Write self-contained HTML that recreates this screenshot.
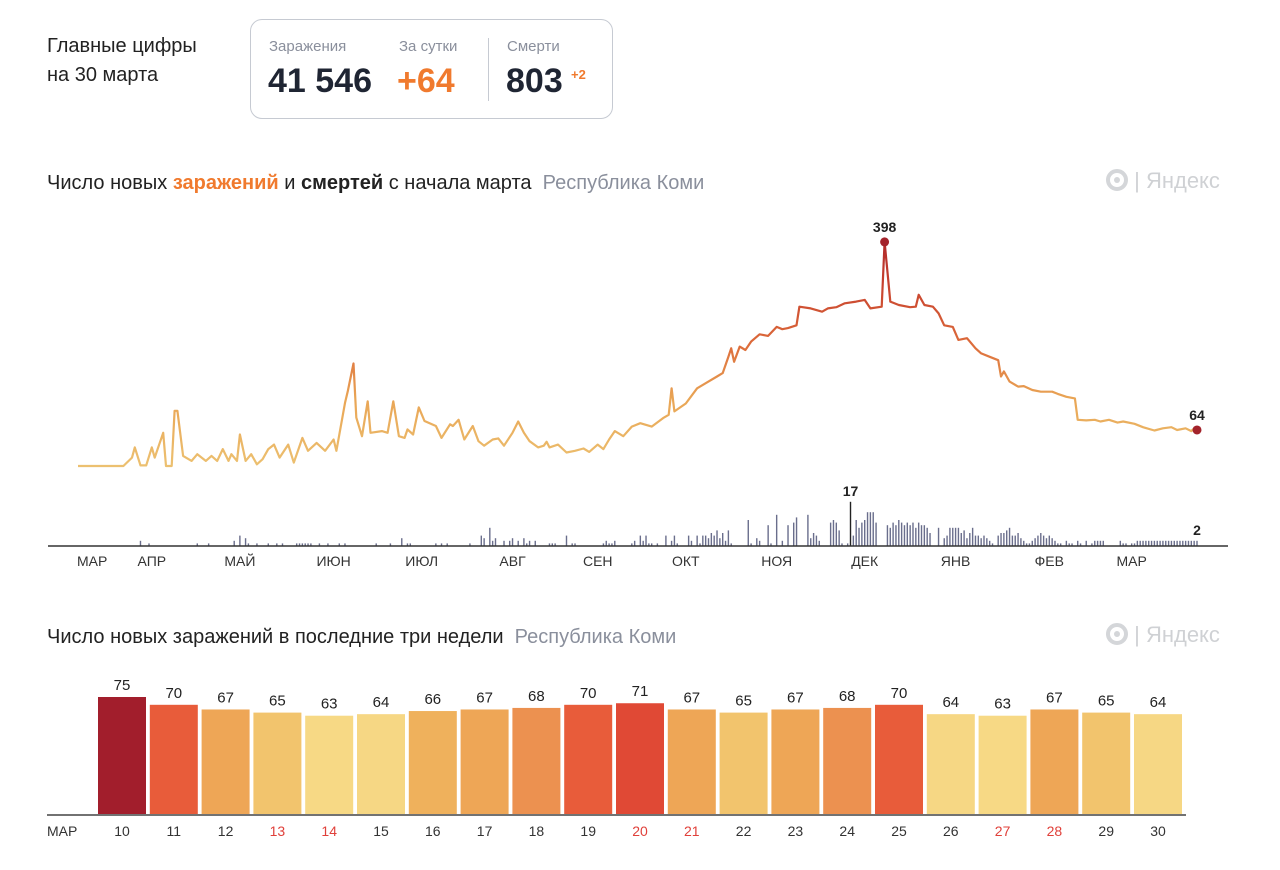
<!DOCTYPE html>
<html><head><meta charset="utf-8">
<style>
body{margin:0;background:#fff;font-family:"Liberation Sans","Noto Sans CJK SC",sans-serif;color:#222;}
#wrap{position:relative;width:1280px;height:870px;overflow:hidden;}
.abs{position:absolute;white-space:nowrap;}
</style></head><body>
<div id="wrap">
<div class="abs" style="left:47px;top:32px;font-size:20px;line-height:29px;color:#222">Главные цифры<br>на 30 марта</div>
<div class="abs" style="left:250px;top:19px;width:363px;height:100px;border:1.5px solid #c6cad2;border-radius:12px;box-sizing:border-box">
  <div class="abs" style="left:18px;top:18px;font-size:15px;color:#8a8f9c">Заражения</div>
  <div class="abs" style="left:17px;top:42px;font-size:34px;font-weight:bold;color:#1f2533">41 546</div>
  <div class="abs" style="left:148px;top:18px;font-size:15px;color:#8a8f9c">За сутки</div>
  <div class="abs" style="left:146px;top:42px;font-size:34px;font-weight:bold;color:#f07a2e">+64</div>
  <div class="abs" style="left:237px;top:18px;width:1px;height:63px;background:#c6cad2"></div>
  <div class="abs" style="left:256px;top:18px;font-size:15px;color:#8a8f9c">Смерти</div>
  <div class="abs" style="left:255px;top:42px;font-size:34px;font-weight:bold;color:#1f2533">803</div>
  <div class="abs" style="left:320px;top:47px;font-size:13px;font-weight:bold;color:#f07a2e">+2</div>
</div>
<div class="abs" style="left:47px;top:172px;font-size:20px;color:#222">Число новых <b style="color:#f07a2e">заражений</b> и <b>смертей</b> с начала марта&nbsp; <span style="color:#8a8f9c">Республика Коми</span></div>
<div class="abs" style="left:47px;top:626px;font-size:20px;color:#222">Число новых заражений в последние три недели&nbsp; <span style="color:#8a8f9c">Республика Коми</span></div>
<div class="abs" style="left:1106px;top:168px;font-size:22px;color:#cfd1d4"><span style="display:inline-block;width:22px;height:22px;border:4px solid #d4d6d9;border-radius:50%;box-sizing:border-box;vertical-align:-3px;position:relative"><span style="position:absolute;left:4px;top:4px;width:6px;height:6px;border-radius:50%;background:#d4d6d9"></span></span> | Яндекс</div>
<div class="abs" style="left:1106px;top:622px;font-size:22px;color:#cfd1d4"><span style="display:inline-block;width:22px;height:22px;border:4px solid #d4d6d9;border-radius:50%;box-sizing:border-box;vertical-align:-3px;position:relative"><span style="position:absolute;left:4px;top:4px;width:6px;height:6px;border-radius:50%;background:#d4d6d9"></span></span> | Яндекс</div>
<svg id="chart" class="abs" style="left:0;top:0" width="1280" height="870">
<defs><linearGradient id="lg" gradientUnits="userSpaceOnUse" x1="0" y1="466" x2="0" y2="242">
<stop offset="0" stop-color="#ecc070"/><stop offset="0.3" stop-color="#e9a555"/><stop offset="0.55" stop-color="#dc6a3a"/><stop offset="0.8" stop-color="#c8432f"/><stop offset="1" stop-color="#b02a2a"/></linearGradient></defs>
</svg>
</div>
<script>
const caseDays=[0,16,19,20,22,24,26,27,30,31,33,34,35,37,40,42,45,47,49,51,53,54,56,57,59,61,63,65,67,69,71,74,76,79,81,84,87,90,91,94,95,97,98,100,102,103,107,109,111,113,115,116,118,120,122,126,128,131,132,134,136,139,141,143,146,148,150,153,155,157,159,162,164,165,166,169,172,175,178,180,183,185,187,189,192,195,198,202,206,208,209,210,214,218,221,225,227,229,230,231,233,235,237,240,243,246,248,250,253,254,258,262,264,267,270,274,277,279,283,284,286,289,293,295,296,298,301,303,305,308,310,313,316,318,321,324,325,326,328,331,333,336,339,343,345,348,351,352,355,358,360,363,366,368,372,375,379,382,385,387,390,392,393,394];
const cases=[0,0,15,33,1,1,33,15,59,0,0,98,98,18,9,21,9,18,9,30,9,21,9,56,9,21,3,12,30,38,15,38,6,50,27,41,27,47,27,112,133,182,86,53,115,59,62,59,115,53,50,65,56,104,80,71,50,74,71,82,47,71,44,36,47,49,36,59,79,59,44,33,36,43,33,38,24,27,31,25,38,30,47,62,53,70,76,70,85,91,138,97,111,138,147,159,165,194,209,185,212,206,221,234,231,247,243,245,250,283,280,274,280,282,289,292,295,280,283,398,292,286,282,283,304,286,283,271,250,247,224,227,209,200,194,188,159,168,150,141,142,135,132,132,128,123,120,82,81,82,79,82,77,79,75,69,63,67,69,64,67,62,67,64];
const deaths=[0,0,0,0,0,0,0,0,0,0,0,0,0,0,0,0,0,0,0,0,
0,0,2,0,0,1,0,0,0,0,0,0,0,0,0,0,0,0,0,0,
0,0,1,0,0,0,1,0,0,0,0,0,0,0,0,2,0,4,0,3,
1,0,0,1,0,0,0,1,0,0,1,0,1,0,0,0,0,1,1,1,
1,1,1,0,0,1,0,0,1,0,0,0,1,0,1,0,0,0,0,0,
0,0,0,0,0,1,0,0,0,0,1,0,0,0,3,0,1,1,0,0,
0,0,0,0,0,0,1,0,1,0,1,0,0,0,0,0,0,0,1,0,
0,0,4,3,0,7,2,3,0,0,2,0,2,3,0,2,0,3,1,2,
0,2,0,0,0,0,1,1,1,0,0,0,4,0,1,1,0,0,0,0,
0,0,0,0,0,1,2,1,1,2,0,0,0,0,0,1,2,0,4,2,
4,1,1,0,1,0,0,4,0,2,4,1,0,0,0,4,2,0,4,1,
4,4,3,5,4,6,3,5,2,6,1,0,0,0,0,0,10,1,0,3,
2,0,0,8,1,0,12,0,2,0,8,0,9,11,0,0,0,12,3,5,
4,2,0,0,0,9,10,9,6,1,0,1,17,4,10,7,9,10,13,13,
13,9,0,0,0,8,7,9,8,10,9,8,9,8,9,7,9,8,8,7,
5,0,0,7,0,3,4,7,7,7,7,5,6,3,5,7,4,4,3,4,
3,2,1,0,4,5,5,6,7,4,4,5,3,2,1,1,2,3,4,5,
4,3,4,3,2,1,1,0,2,1,1,0,2,1,0,2,0,1,2,2,
2,2,0,0,0,0,0,2,1,1,0,1,1,2,2,2,2,2,2,2,
2,2,2,2,2,2,2,2,2,2,2,2,2,2,2];
const monthLabels=["МАР","АПР","МАЙ","ИЮН","ИЮЛ","АВГ","СЕН","ОКТ","НОЯ","ДЕК","ЯНВ","ФЕВ","МАР"];
const monthDays=[5,26,57,90,121,153,183,214,246,277,309,342,371];
const barDates=["10","11","12","13","14","15","16","17","18","19","20","21","22","23","24","25","26","27","28","29","30"];
const barValues=[75,70,67,65,63,64,66,67,68,70,71,67,65,67,68,70,64,63,67,65,64];
const weekendDates=["13","14","20","21","27","28"];

const svg=document.getElementById('chart');
const NS='http://www.w3.org/2000/svg';
function mk(tag,attrs){const e=document.createElementNS(NS,tag);for(const k in attrs)e.setAttribute(k,attrs[k]);svg.appendChild(e);return e;}
const X=d=>78+d*(1119/394);
const Y=v=>466-v*0.563;
const DY=v=>546-v*2.6;

let dstr='';
caseDays.forEach((d,i)=>{dstr+=(i?'L':'M')+X(d).toFixed(1)+','+Y(cases[i]).toFixed(1);});
const line=mk('path',{d:dstr,fill:'none',stroke:'url(#lg)','stroke-width':2.2,'stroke-linejoin':'round'});


let maxI=0;cases.forEach((v,i)=>{if(v>cases[maxI])maxI=i;});
const lastI=cases.length-1;
[[maxI,'peak'],[lastI,'last']].forEach(([i,nm])=>{
  const c=mk('circle',{cx:X(caseDays[i]),cy:Y(cases[i]),r:4.5,fill:'#a3232b'});
  
  
  const t=mk('text',{x:X(caseDays[i]),y:Y(cases[i])-10,'text-anchor':'middle','font-size':14,'font-weight':'bold',fill:'#222'});
  t.textContent=cases[i];
  
  
});
let dMax=0;deaths.forEach((v,i)=>{if(v>deaths[dMax])dMax=i;});
deaths.forEach((v,i)=>{
  if(!v)return;
  const r=mk('rect',{x:X(i)-0.7,y:DY(v),width:1.4,height:546-DY(v),fill:i===dMax?'#222':'#6a6e8c'});
  
  
});
[[dMax,'max'],[deaths.length-1,'last']].forEach(([i,nm])=>{
  const t=mk('text',{x:X(i),y:DY(deaths[i])-6,'text-anchor':'middle','font-size':14,'font-weight':'bold',fill:'#222'});
  t.textContent=deaths[i];
  
  
});
const ax=mk('line',{x1:48,x2:1228,y1:546,y2:546,stroke:'#333','stroke-width':1.5});


monthLabels.forEach((m,i)=>{
  const t=mk('text',{x:X(monthDays[i]),y:566,'text-anchor':'middle','font-size':14,fill:'#333'});
  t.textContent=m;
  
  
});
const palette={63:'#f7d985',64:'#f6d784',65:'#f2c46d',66:'#efb15c',67:'#eea656',68:'#ec9150',69:'#e9783f',70:'#e85c3a',71:'#e04935',75:'#a21e2c'};
const BX=i=>98+i*51.8, BW=48, BY=v=>814-v*1.56;
barValues.forEach((v,i)=>{
  const r=mk('rect',{x:BX(i),y:BY(v),width:BW,height:814-BY(v),fill:palette[v]||'#e9783f'});
  
  
  const t=mk('text',{x:BX(i)+BW/2,y:BY(v)-7,'text-anchor':'middle','font-size':15,fill:'#222'});
  t.textContent=v;
  
  
  const d=mk('text',{x:BX(i)+BW/2,y:836,'text-anchor':'middle','font-size':14,fill:weekendDates.includes(barDates[i])?'#e0403a':'#333'});
  d.textContent=barDates[i];
  
  
});
const ax2=mk('line',{x1:47,x2:1186,y1:815,y2:815,stroke:'#444','stroke-width':1.5});


const mt=mk('text',{x:47,y:836,'font-size':14,fill:'#333'});
mt.textContent='МАР';


</script>
</body></html>
